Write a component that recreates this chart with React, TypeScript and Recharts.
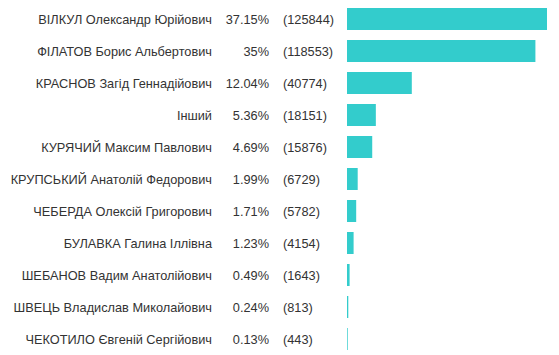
import { BarChart, Bar, XAxis, YAxis } from "recharts";

const candidates = [
  "ВІЛКУЛ Олександр Юрійович",
  "ФІЛАТОВ Борис Альбертович",
  "КРАСНОВ Загід Геннадійович",
  "Інший",
  "КУРЯЧИЙ Максим Павлович",
  "КРУПСЬКИЙ Анатолій Федорович",
  "ЧЕБЕРДА Олексій Григорович",
  "БУЛАВКА Галина Іллівна",
  "ШЕБАНОВ Вадим Анатолійович",
  "ШВЕЦЬ Владислав Миколайович",
  "ЧЕКОТИЛО Євгеній Сергійович",
];

const percents = ["37.15%", "35%", "12.04%", "5.36%", "4.69%", "1.99%", "1.71%", "1.23%", "0.49%", "0.24%", "0.13%"];

const votes = [125844, 118553, 40774, 18151, 15876, 6729, 5782, 4154, 1643, 813, 443];

const data = candidates.map((name, i) => ({ name, pct: percents[i], votes: votes[i] }));

const textStyle = { fontFamily: "'Liberation Sans', Arial, sans-serif", fontSize: 12.75, fill: "#333" };

const RowTick = ({ y, payload }: any) => {
  const row = data[payload.index];
  return (
    <g>
      <text x={212} y={y} dy={4.5} textAnchor="end" style={textStyle}>{row.name}</text>
      <text x={269} y={y} dy={4.5} textAnchor="end" style={textStyle}>{row.pct}</text>
      <text x={283} y={y} dy={4.5} textAnchor="start" style={textStyle}>({row.votes})</text>
    </g>
  );
};

export default function App() {
  return (
    <div style={{ position: "absolute", left: 0, top: 0, background: "#fff" }}>
      <BarChart
        width={559}
        height={355}
        layout="vertical"
        data={data}
        margin={{ top: 3, right: 12, bottom: 0, left: 0 }}
        barCategoryGap={5}
      >
        <XAxis type="number" hide domain={[0, 125844]} />
        <YAxis
          type="category"
          dataKey="name"
          width={347}
          axisLine={false}
          tickLine={false}
          interval={0}
          tick={<RowTick />}
        />
        <Bar dataKey="votes" fill="#33cccc" barSize={22} isAnimationActive={false} />
      </BarChart>
    </div>
  );
}
